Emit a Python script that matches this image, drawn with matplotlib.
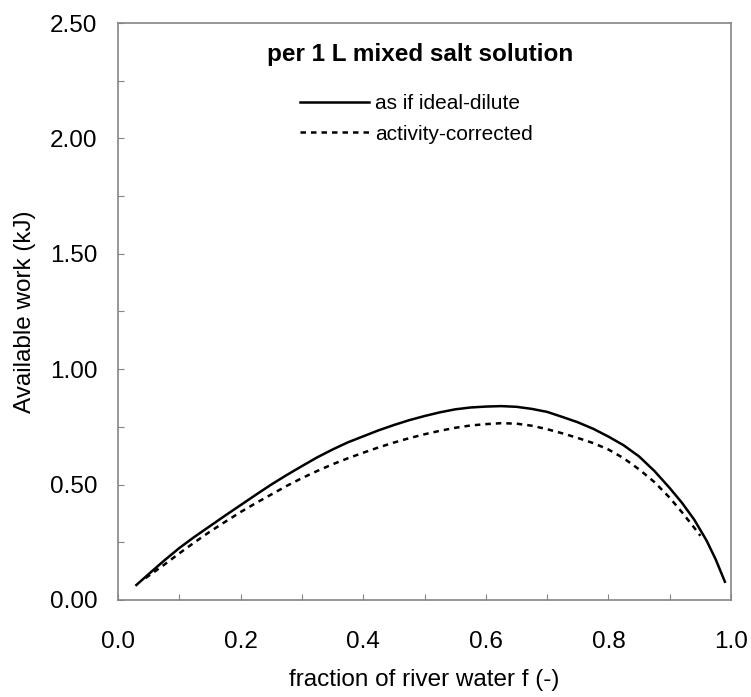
import matplotlib.pyplot as plt
from matplotlib.ticker import MultipleLocator, FormatStrFormatter

plt.rcParams['font.family'] = ['Liberation Sans', 'DejaVu Sans']

# available work per litre of mixed salt solution vs. river water fraction
f_ideal = [0.03, 0.05, 0.075, 0.10, 0.125, 0.15, 0.175, 0.20, 0.225, 0.25,
           0.275, 0.30, 0.325, 0.35, 0.375, 0.40, 0.425, 0.45, 0.475, 0.50,
           0.525, 0.55, 0.575, 0.60, 0.625, 0.65, 0.675, 0.70, 0.725, 0.75,
           0.775, 0.80, 0.825, 0.85, 0.875, 0.90, 0.92, 0.94, 0.96, 0.975,
           0.99]
w_ideal = [0.065, 0.112, 0.170, 0.225, 0.274, 0.320, 0.366, 0.411, 0.456,
           0.500, 0.541, 0.580, 0.618, 0.652, 0.683, 0.709, 0.735, 0.758,
           0.779, 0.797, 0.813, 0.826, 0.834, 0.838, 0.840, 0.837, 0.828,
           0.815, 0.793, 0.770, 0.742, 0.708, 0.670, 0.622, 0.559, 0.485,
           0.421, 0.348, 0.258, 0.176, 0.079]

f_act = [0.045, 0.075, 0.10, 0.125, 0.15, 0.175, 0.20, 0.225, 0.25, 0.275,
         0.30, 0.325, 0.35, 0.375, 0.40, 0.425, 0.45, 0.475, 0.50, 0.525,
         0.55, 0.575, 0.60, 0.625, 0.65, 0.675, 0.70, 0.725, 0.75, 0.775,
         0.80, 0.825, 0.85, 0.875, 0.90, 0.92, 0.94, 0.95]
w_act = [0.095, 0.152, 0.202, 0.250, 0.296, 0.339, 0.381, 0.420, 0.457,
         0.494, 0.528, 0.559, 0.588, 0.614, 0.638, 0.661, 0.682, 0.701,
         0.718, 0.733, 0.746, 0.756, 0.762, 0.766, 0.764, 0.755, 0.740,
         0.722, 0.702, 0.680, 0.652, 0.614, 0.566, 0.511, 0.443, 0.380,
         0.313, 0.278]

fig = plt.figure(figsize=(7.51, 6.97), dpi=100)
ax = fig.add_axes([0.1571, 0.1392, 0.8163, 0.8278])

ax.plot(f_ideal, w_ideal, color='black', lw=1.8, label='as if ideal-dilute')
ax.plot(f_act, w_act, color='black', lw=1.8, linestyle=(0, (2.2, 2.0)),
        label='activity-corrected')

ax.set_xlim(0, 1.0)
ax.set_ylim(0, 2.5)
ax.xaxis.set_major_locator(MultipleLocator(0.2))
ax.xaxis.set_minor_locator(MultipleLocator(0.1))
ax.yaxis.set_major_locator(MultipleLocator(0.5))
ax.yaxis.set_minor_locator(MultipleLocator(0.25))
ax.xaxis.set_major_formatter(FormatStrFormatter('%.1f'))
ax.yaxis.set_major_formatter(FormatStrFormatter('%.2f'))

gray = '#858585'
for s in ax.spines.values():
    s.set_color(gray)
    s.set_linewidth(1.2)
ax.tick_params(which='both', direction='in', color=gray, width=0.8,
               length=4, labelsize=17.5)
ax.tick_params(axis='x', which='both', pad=22)
ax.tick_params(axis='y', which='both', pad=15)

ax.set_xlabel('fraction of river water f (-)', fontsize=17.5, labelpad=12)
ax.set_ylabel('Available work (kJ)', fontsize=17.5, labelpad=10)

ax.text(0.493, 0.945, 'per 1 L mixed salt solution', transform=ax.transAxes,
        ha='center', va='center', fontsize=17.5, fontweight='bold')

ax.legend(loc='center left', bbox_to_anchor=(0.297, 0.834), frameon=False,
          fontsize=15, handlelength=3.3, handletextpad=0.3, labelspacing=0.55,
          borderpad=0, borderaxespad=0)

fig.savefig('out.png', dpi=100)
